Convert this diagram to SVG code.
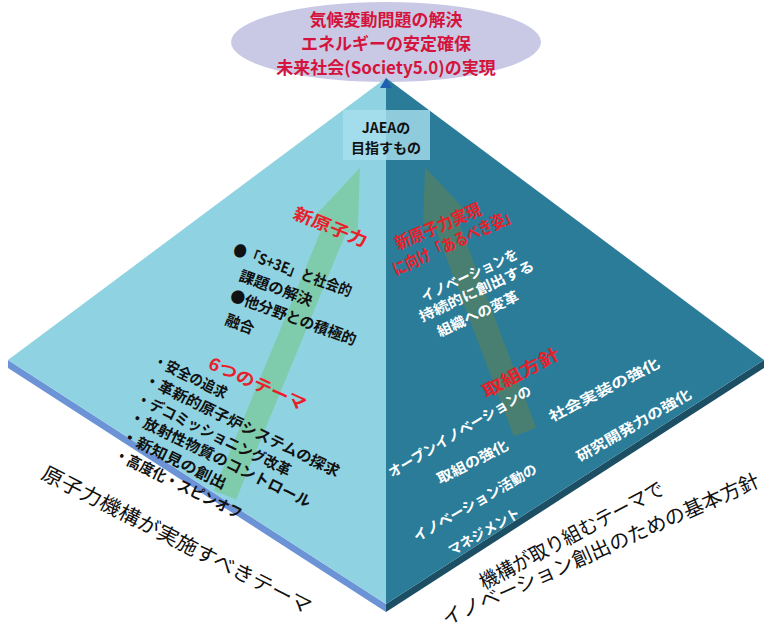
<svg xmlns="http://www.w3.org/2000/svg" width="771" height="633" viewBox="0 0 771 633">
<style>
text{font-family:"Noto Sans CJK JP","Noto Sans",sans-serif;font-weight:bold}
.k{fill:#111;font-size:15px}
.w{fill:#fff;font-size:14px}
.r{fill:#e8202a;font-size:17px}
.big{fill:#111;font-size:20px;font-weight:normal}
</style>
<rect width="771" height="633" fill="#fff"/>
<g id="goal">
<ellipse cx="386" cy="42" rx="155" ry="40" fill="#c9c9e6"/>
<text x="386" y="26" text-anchor="middle" fill="#d4143c" font-size="17">気候変動問題の解決</text>
<text x="386" y="50" text-anchor="middle" fill="#d4143c" font-size="17">エネルギーの安定確保</text>
<text x="386" y="74" text-anchor="middle" fill="#d4143c" font-size="17">未来社会(Society5.0)の実現</text>
</g>
<g id="pyramid">
<polygon points="8,360 386,604 386,612 8,368" fill="#6b93d6"/>
<polygon points="386,604 764,360 764,368 386,612" fill="#1c4f63"/>
<polygon points="386,78 8,360 386,604" fill="#8fd3e2"/>
<polygon points="386,78 386,604 764,360" fill="#2a7c99"/>
<polygon points="386,78 380,88 392,88" fill="#2060b0"/>
<rect x="343" y="110" width="87" height="50" fill="#a8dfec" opacity="0.8"/>
<text x="386" y="133" text-anchor="middle" fill="#111" font-size="14" font-weight="normal">JAEAの</text>
<text x="386" y="153" text-anchor="middle" fill="#111" font-size="14" font-weight="normal">目指すもの</text>
</g>
<g id="arrows">
<path d="M-12,0 L-12,-290 L-24,-290 L0,-354 L24,-290 L12,-290 L12,0 Z" fill="#79c99b" opacity="0.75" transform="translate(225,495) rotate(22.4)"/>
<path d="M-12,0 L-12,-225 L-24,-225 L0,-283 L24,-225 L12,-225 L12,0 Z" fill="#4f8069" opacity="0.85" transform="translate(525,432) rotate(-20.7)"/>
</g>
<g id="left-face">
<text class="r" transform="translate(292,218) rotate(22)" textLength="78" lengthAdjust="spacingAndGlyphs">新原子力</text>
<text class="k" transform="translate(232,254) rotate(20)" textLength="125" lengthAdjust="spacingAndGlyphs">●「S+3E」と社会的</text>
<text class="k" transform="translate(238,280) rotate(20)" textLength="77" lengthAdjust="spacingAndGlyphs">課題の解決</text>
<text class="k" transform="translate(229,300) rotate(20)" textLength="133" lengthAdjust="spacingAndGlyphs">●他分野との積極的</text>
<text class="k" transform="translate(224,324) rotate(20)" textLength="30" lengthAdjust="spacingAndGlyphs">融合</text>
<text class="r" transform="translate(207,368) rotate(24)" textLength="105" lengthAdjust="spacingAndGlyphs">6つのテーマ</text>
<text class="k" transform="translate(152,364) rotate(26)" textLength="80" lengthAdjust="spacingAndGlyphs">・安全の追求</text>
<text class="k" transform="translate(143,383) rotate(26)" textLength="215" lengthAdjust="spacingAndGlyphs">・革新的原子炉システムの探求</text>
<text class="k" transform="translate(135,402) rotate(26)" textLength="170" lengthAdjust="spacingAndGlyphs">・デコミッショニング改革</text>
<text class="k" transform="translate(128,420) rotate(26)" textLength="200" lengthAdjust="spacingAndGlyphs">・放射性物質のコントロール</text>
<text class="k" transform="translate(120,439) rotate(26)" textLength="115" lengthAdjust="spacingAndGlyphs">・新知見の創出</text>
<text class="k" transform="translate(113,458) rotate(26)" textLength="140" lengthAdjust="spacingAndGlyphs">・高度化・スピンオフ</text>
<text class="big" transform="translate(40,478) rotate(27)" textLength="300" lengthAdjust="spacingAndGlyphs">原子力機構が実施すべきテーマ</text>
</g>
<g id="right-face">
<text class="r" transform="translate(398,250) rotate(-23)" textLength="92" lengthAdjust="spacingAndGlyphs">新原子力実現</text>
<text class="r" transform="translate(396,276) rotate(-25)" textLength="135" lengthAdjust="spacingAndGlyphs">に向け「あるべき姿」</text>
<text class="w" transform="translate(424,302) rotate(-25)" textLength="105" lengthAdjust="spacingAndGlyphs">イノベーションを</text>
<text class="w" transform="translate(422,322) rotate(-25)" textLength="125" lengthAdjust="spacingAndGlyphs">持続的に創出する</text>
<text class="w" transform="translate(440,337) rotate(-25)" textLength="88" lengthAdjust="spacingAndGlyphs">組織への変革</text>
<text class="r" transform="translate(486,398) rotate(-28)" textLength="85" lengthAdjust="spacingAndGlyphs">取組方針</text>
<text class="w" transform="translate(392,478) rotate(-31)" textLength="164" lengthAdjust="spacingAndGlyphs">オープンイノベーションの</text>
<text class="w" transform="translate(440,484) rotate(-27)" textLength="78" lengthAdjust="spacingAndGlyphs">取組の強化</text>
<text class="w" transform="translate(417,542) rotate(-30)" textLength="140" lengthAdjust="spacingAndGlyphs">イノベーション活動の</text>
<text class="w" transform="translate(452,556) rotate(-30)" textLength="80" lengthAdjust="spacingAndGlyphs">マネジメント</text>
<text class="w" transform="translate(552,422) rotate(-27)" textLength="122" lengthAdjust="spacingAndGlyphs">社会実装の強化</text>
<text class="w" transform="translate(580,462) rotate(-30)" textLength="130" lengthAdjust="spacingAndGlyphs">研究開発力の強化</text>
<text class="big" transform="translate(484,590) rotate(-28)" textLength="206" lengthAdjust="spacingAndGlyphs">機構が取り組むテーマで</text>
<text class="big" transform="translate(446,626) rotate(-24)" textLength="345" lengthAdjust="spacingAndGlyphs">イノベーション創出のための基本方針</text>
</g>
</svg>
